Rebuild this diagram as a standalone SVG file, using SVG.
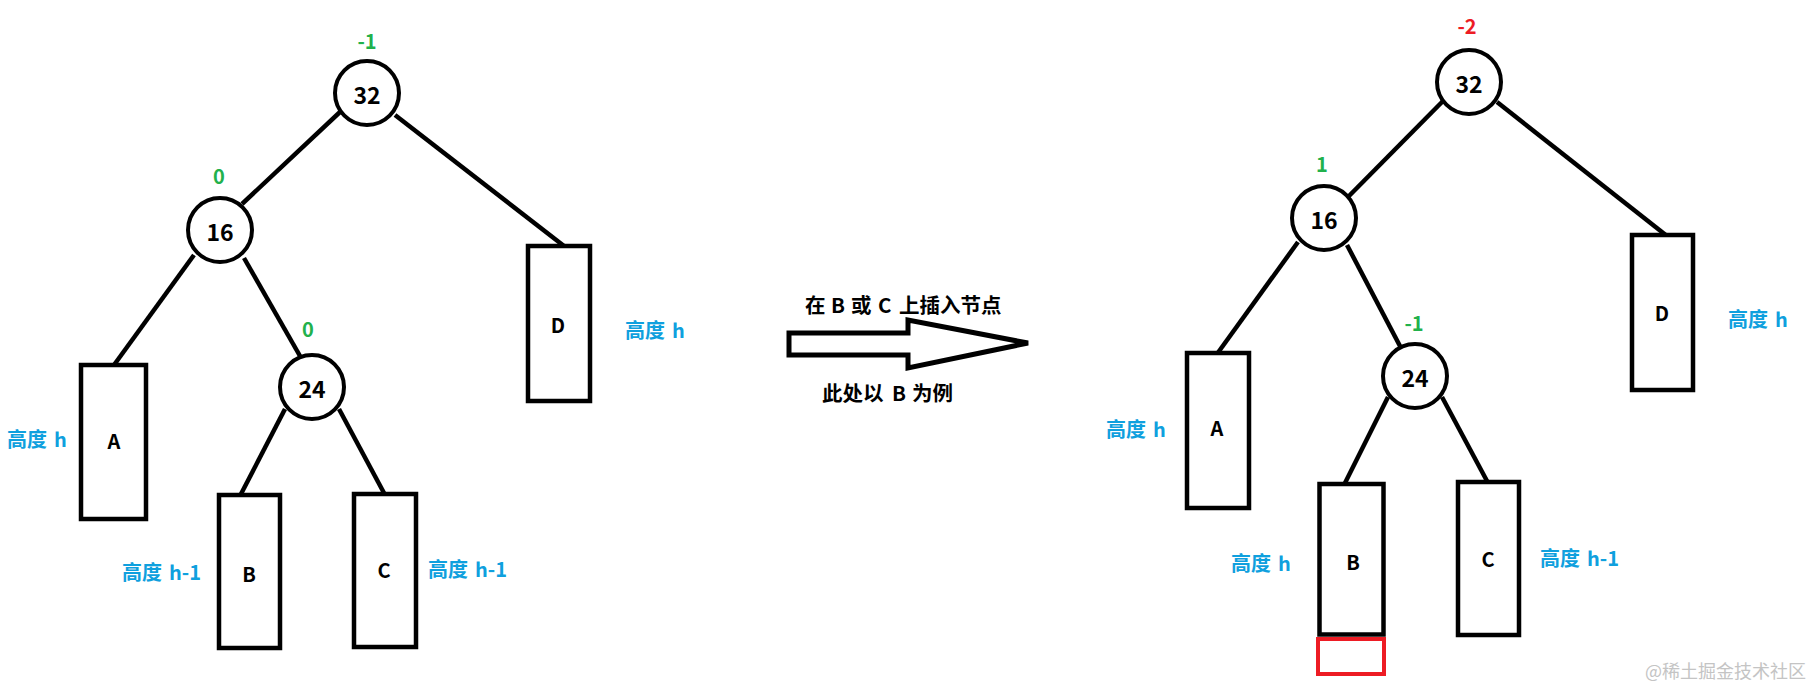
<svg xmlns="http://www.w3.org/2000/svg" width="1811" height="690" viewBox="0 0 1811 690">
<style>
text{font-family:"Noto Sans CJK SC","Liberation Sans",sans-serif;font-weight:bold;dominant-baseline:central}
.n circle{fill:#fff;stroke:#000;stroke-width:4}
.n text{font-size:23px;text-anchor:middle;fill:#000}
.bal{font-size:20px;text-anchor:middle;fill:#22b14c}
.red{fill:#ed1c24}
.box rect{fill:#fff;stroke:#000;stroke-width:4.5}
.box text{font-size:20px;text-anchor:middle;fill:#000}
.h{font-size:20px;fill:#0fa0de;text-anchor:start}
.edges line{stroke:#000;stroke-width:4.5}
.mid{font-size:20.5px;fill:#000}
.wm{font-size:18px;font-weight:normal;fill:#c4c4c4}
</style>
<rect width="1811" height="690" fill="#fff"/>
<g class="edges" id="connectors">
<line x1="340" y1="112" x2="242" y2="204"/>
<line x1="395" y1="115" x2="564" y2="246"/>
<line x1="194" y1="255" x2="114" y2="365"/>
<line x1="244" y1="258" x2="300" y2="356"/>
<line x1="285" y1="409" x2="241" y2="494"/>
<line x1="339" y1="409" x2="384" y2="493"/>
<line x1="1443" y1="101" x2="1346" y2="199"/>
<line x1="1497" y1="102" x2="1667" y2="236"/>
<line x1="1298" y1="242" x2="1217" y2="354"/>
<line x1="1347" y1="245" x2="1401" y2="348"/>
<line x1="1388" y1="397" x2="1345" y2="483"/>
<line x1="1442" y1="397" x2="1487" y2="481"/>
</g>
<g id="L32" class="n"><circle cx="367" cy="93" r="32"/><text x="367" y="94">32</text></g>
<text class="bal" x="367" y="40">-1</text>
<g id="L16" class="n"><circle cx="220" cy="230" r="32"/><text x="220" y="231">16</text></g>
<text class="bal" x="219" y="175">0</text>
<g id="L24" class="n"><circle cx="312" cy="387" r="32"/><text x="312" y="388">24</text></g>
<text class="bal" x="308" y="328">0</text>
<g id="LA" class="box"><rect x="81" y="365" width="65" height="154"/><text x="114" y="440">A</text></g>
<g id="LB" class="box"><rect x="219" y="495" width="61" height="153"/><text x="249" y="573">B</text></g>
<g id="LC" class="box"><rect x="354" y="494" width="62" height="153"/><text x="384" y="569">C</text></g>
<g id="LD" class="box"><rect x="528" y="246" width="62" height="155"/><text x="558" y="324">D</text></g>
<text class="h" y="438"><tspan x="7">高度</tspan><tspan x="54">h</tspan></text>
<text class="h" y="571"><tspan x="122">高度</tspan><tspan x="169">h-1</tspan></text>
<text class="h" y="568"><tspan x="428">高度</tspan><tspan x="475">h-1</tspan></text>
<text class="h" y="329"><tspan x="625">高度</tspan><tspan x="672">h</tspan></text>
<g id="arrow">
<polygon points="789,333 908,333 908,320 1028,343 908,368 908,355 789,355" fill="#fff" stroke="#000" stroke-width="5" stroke-linejoin="miter"/>
<text class="mid" y="304"><tspan x="805">在</tspan><tspan x="831">B</tspan><tspan x="851">或</tspan><tspan x="878">C</tspan><tspan x="899">上插入节点</tspan></text>
<text class="mid" y="392"><tspan x="822">此处以</tspan><tspan x="892">B</tspan><tspan x="912">为例</tspan></text>
</g>
<g id="R32" class="n"><circle cx="1469" cy="82" r="32"/><text x="1469" y="83">32</text></g>
<text class="bal red" x="1467" y="25">-2</text>
<g id="R16" class="n"><circle cx="1324" cy="218" r="32"/><text x="1324" y="219">16</text></g>
<text class="bal" x="1322" y="163">1</text>
<g id="R24" class="n"><circle cx="1415" cy="376" r="32"/><text x="1415" y="377">24</text></g>
<text class="bal" x="1414" y="322">-1</text>
<g id="RA" class="box"><rect x="1187" y="353" width="62" height="155"/><text x="1217" y="427">A</text></g>
<g id="RB" class="box"><rect x="1319.5" y="484" width="64" height="150.5"/><text x="1353" y="561">B</text></g>
<rect id="new" x="1318" y="639" width="66" height="35" fill="none" stroke="#ed1c24" stroke-width="4"/>
<g id="RC" class="box"><rect x="1458" y="482" width="61" height="153"/><text x="1488" y="558">C</text></g>
<g id="RD" class="box"><rect x="1632" y="235" width="61" height="155"/><text x="1662" y="312">D</text></g>
<text class="h" y="428"><tspan x="1106">高度</tspan><tspan x="1153">h</tspan></text>
<text class="h" y="562"><tspan x="1231">高度</tspan><tspan x="1278">h</tspan></text>
<text class="h" y="557"><tspan x="1540">高度</tspan><tspan x="1587">h-1</tspan></text>
<text class="h" y="318"><tspan x="1728">高度</tspan><tspan x="1775">h</tspan></text>
<text class="wm" x="1645" y="670">@稀土掘金技术社区</text>
</svg>
